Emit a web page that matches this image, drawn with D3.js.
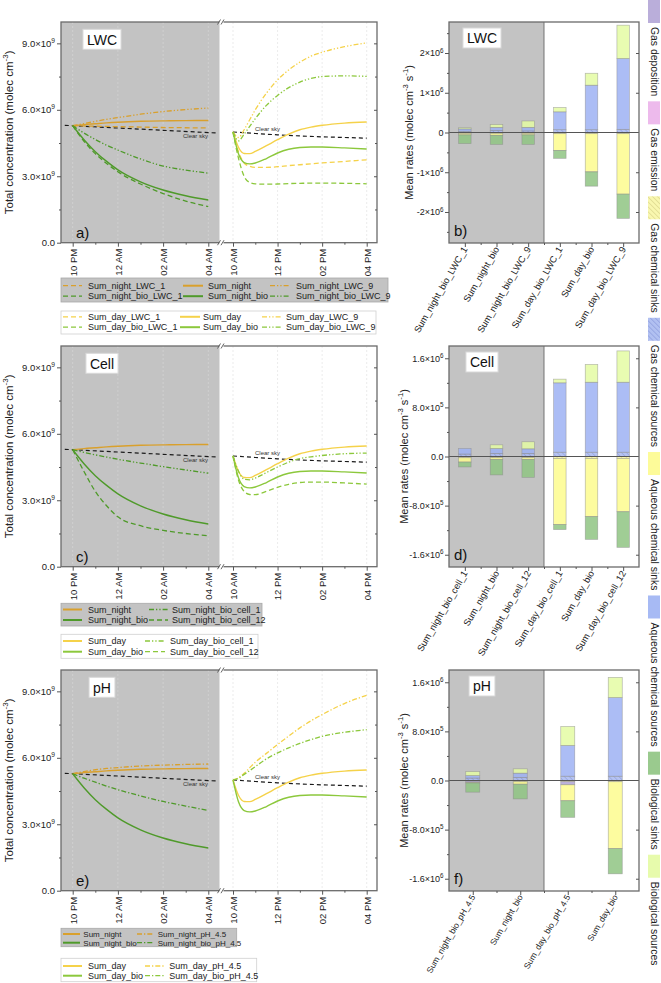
<!DOCTYPE html>
<html><head><meta charset="utf-8">
<script src="https://cdn.jsdelivr.net/npm/d3@7"></script>
<style>body{margin:0;background:#fff} svg{font-family:"Liberation Sans",Arial,sans-serif}</style>
</head><body><svg id="c" width="661" height="983"></svg>
<script>
// ---------------- DATA ----------------
const nightHours = [0,0.5,1,1.5,2,3,4,5,6];          // hours after 10 PM
const dayHours   = [0,0.25,0.5,0.75,1,1.5,2,2.5,3,3.5,4,5,6]; // hours after 10 AM
const nightTickLabels = ["10 PM","12 AM","02 AM","04 AM"];
const dayTickLabels   = ["10 AM","12 PM","02 PM","04 PM"];
const clearNightHours = [-0.35, 6.4];
const clearNight = [5.3, 4.95];
const clearDayHours = [0,1,2,3,4,5,6];
const clearDay = [5.0,4.93,4.87,4.82,4.78,4.75,4.72];

// night series (x1e9 molec cm-3)
const sumNight        = [5.28,5.33,5.37,5.41,5.44,5.48,5.50,5.51,5.52];
const sumNightLWC1    = [5.28,5.27,5.26,5.25,5.24,5.22,5.20,5.19,5.18];
const sumNightLWC9    = [5.28,5.38,5.48,5.57,5.65,5.80,5.92,6.01,6.08];
const sumNightBio     = [5.28,4.65,4.11,3.67,3.29,2.75,2.38,2.12,1.93];
const sumNightBioLWC1 = [5.28,4.58,4.02,3.58,3.20,2.65,2.22,1.88,1.63];
const sumNightBioLWC9 = [5.28,4.95,4.66,4.40,4.18,3.78,3.46,3.28,3.14];
const sumNightBioCell1  = [5.28,5.16,5.05,4.95,4.85,4.68,4.52,4.37,4.22];
const sumNightBioCell12 = [5.28,4.30,3.40,2.75,2.25,1.85,1.64,1.50,1.40];
const sumNightPH45    = [5.28,5.38,5.46,5.52,5.56,5.63,5.67,5.70,5.72];
const sumNightBioPH45 = [5.28,5.08,4.90,4.72,4.56,4.28,4.03,3.82,3.62];

// day series
const sumDay        = [5.0,4.30,4.03,4.02,4.12,4.38,4.65,4.90,5.10,5.22,5.30,5.40,5.45];
const sumDayBio     = [5.0,4.00,3.62,3.56,3.60,3.80,4.05,4.22,4.30,4.32,4.32,4.28,4.23];
const sumDayLWC1    = [5.0,4.10,3.60,3.45,3.40,3.40,3.43,3.48,3.52,3.56,3.60,3.67,3.74];
const sumDayBioLWC1 = [5.0,3.80,3.00,2.72,2.66,2.64,2.65,2.67,2.68,2.69,2.69,2.68,2.66];
const sumDayLWC9    = [5.0,4.75,5.10,5.55,6.00,6.75,7.35,7.80,8.15,8.42,8.60,8.85,9.02];
const sumDayBioLWC9 = [5.0,4.60,4.90,5.25,5.60,6.20,6.65,7.00,7.25,7.42,7.50,7.53,7.51];
const sumDayBioCell1  = [5.0,4.30,3.95,3.92,4.00,4.25,4.50,4.72,4.88,4.96,5.02,5.10,5.13];
const sumDayBioCell12 = [5.0,3.90,3.40,3.26,3.25,3.40,3.58,3.72,3.80,3.82,3.82,3.78,3.73];
const sumDayPH45    = [5.0,5.10,5.30,5.55,5.80,6.20,6.60,6.98,7.35,7.67,7.95,8.45,8.82];
const sumDayBioPH45 = [5.0,5.08,5.25,5.42,5.60,5.95,6.22,6.45,6.65,6.82,6.97,7.15,7.27];

const lineYTicks = [0,3,6,9];
const lineYTickLabels = ["0.0","3.0×10^{9}","6.0×10^{9}","9.0×10^{9}"];

// bar data (x1e6 molec cm-3 s-1)
const catsB = ["Sum_night_bio_LWC_1","Sum_night_bio","Sum_night_bio_LWC_9","Sum_day_bio_LWC_1","Sum_day_bio","Sum_day_bio_LWC_9"];
const gasChemSrcB = [0.03,0.05,0.04,0.07,0.07,0.08];
const gasChemSinkB= [-0.02,-0.02,-0.02,-0.03,-0.03,-0.03];
const gasEmisB    = [0,0,0,0,0,0];
const gasDepB     = [0,0,0,0,0,0];
const aqSrcB      = [0.06,0.08,0.09,0.45,1.12,1.78];
const aqSinkB     = [-0.04,-0.05,-0.04,-0.42,-0.96,-1.52];
const bioSrcB     = [0.03,0.07,0.16,0.11,0.30,0.84];
const bioSinkB    = [-0.22,-0.23,-0.24,-0.20,-0.36,-0.61];

const catsD = ["Sum_night_bio_cell_1","Sum_night_bio","Sum_night_bio_cell_12","Sum_day_bio_cell_1","Sum_day_bio","Sum_day_bio_cell_12"];
const gasChemSrcD = [0.04,0.05,0.05,0.07,0.07,0.07];
const gasChemSinkD= [-0.02,-0.02,-0.02,-0.03,-0.03,-0.03];
const gasEmisD    = [0,0,0,0,0,0];
const gasDepD     = [0,0,0,0,0,0];
const aqSrcD      = [0.09,0.08,0.075,1.13,1.14,1.14];
const aqSinkD     = [-0.07,-0.03,-0.03,-1.08,-0.95,-0.87];
const bioSrcD     = [0.0,0.06,0.115,0.06,0.29,0.51];
const bioSinkD    = [-0.08,-0.25,-0.29,-0.08,-0.37,-0.58];

const catsF = ["Sum_night_bio_pH_4.5","Sum_night_bio","Sum_day_bio_pH_4.5","Sum_day_bio"];
const gasChemSrcF = [0.04,0.05,0.07,0.07];
const gasChemSinkF= [-0.01,-0.02,-0.02,-0.02];
const gasEmisF    = [0,0,0,0];
const gasDepF     = [-0.02,0,-0.05,0];
const aqSrcF      = [0.04,0.07,0.50,1.28];
const aqSinkF     = [-0.01,-0.04,-0.26,-1.09];
const bioSrcF     = [0.066,0.07,0.31,0.33];
const bioSinkF    = [-0.15,-0.24,-0.27,-0.41];

const barTicksB = [-2,-1,0,1,2];
const barTickLabelsB = ["-2×10^{6}","-1×10^{6}","0","1×10^{6}","2×10^{6}"];
const barTicksDF = [-1.6,-0.8,0,0.8,1.6];
const barTickLabelsDF = ["-1.6×10^{6}","-8.0×10^{5}","0.0","8.0×10^{5}","1.6×10^{6}"];

const legendNames = ["Gas deposition","Gas emission","Gas chemical sinks","Gas chemical sources","Aqueous chemical sinks","Aqueous chemical sources","Biological sinks","Biological sources"];

// ---------------- STYLE ----------------
const COL = {nO:"#d9a02c", nG:"#4f9a2a", dY:"#f5d24a", dG:"#8cc83c"};
const DASH = {solid:null, dash:"5,3", dd:"5,2,1.3,2,1.3,2", dot:"5,2,1.3,2"};
const GRAY = "#c3c3c3";
const TICKFS = 9.5, BARTICKFS = 9;
const keys = ["gasChemSrc","gasChemSink","gasEmis","gasDep","aqSrc","aqSink","bioSrc","bioSink"];
const FILL = {gasChemSrc:"url(#hBlue)", gasChemSink:"url(#hYel)", gasEmis:"#ebb3ea", gasDep:"#b2a5d6",
  aqSrc:"#9db2f3", aqSink:"#fdfb8e", bioSrc:"#e4fba3", bioSink:"#8fc482"};
const legendKeys = ["gasDep","gasEmis","gasChemSink","gasChemSrc","aqSink","aqSrc","bioSink","bioSrc"];

const svg = d3.select("#c");
const defs = svg.append("defs");
function hatch(id, bg, line){
  const p = defs.append("pattern").attr("id",id).attr("patternUnits","userSpaceOnUse")
    .attr("width",3.5).attr("height",3.5).attr("patternTransform","rotate(-45)");
  p.append("rect").attr("width",3.5).attr("height",3.5).attr("fill",bg);
  p.append("line").attr("x1",0).attr("y1",0).attr("x2",0).attr("y2",3.5).attr("stroke",line).attr("stroke-width",0.7);
}
hatch("hBlue","#a9b9f0","#5d6fc4");
hatch("hYel","#f8f6a6","#b9b060");

function richText(t, str, fs){
  const parts = str.split(/(\^\{[^}]*\})/).filter(s=>s.length);
  let shifted=false;
  parts.forEach(p=>{
    if(p.startsWith("^{")){ t.append("tspan").attr("dy",-fs*0.42).attr("font-size",fs*0.7).text(p.slice(2,-1)); shifted=true; }
    else { const ts=t.append("tspan").text(p); if(shifted){ ts.attr("dy",fs*0.42); shifted=false; } }
  });
}

const LX0=61, LXB=219.5, LX1=377;
const BX0=449, BX1=639;
const xNight = d3.scaleLinear().domain([0,6]).range([72.7,208.3]);
const xDay   = d3.scaleLinear().domain([0,6]).range([233,366.7]);

// d3.axis sets font-size/font-family on its group: override afterwards
function styleAxis(g, fs){
  g.attr("font-family", null);
  if (fs) g.attr("font-size", fs);
  g.select(".domain").remove();
  g.selectAll(".tick line").attr("stroke","#555").attr("stroke-width",1);
  g.selectAll(".tick text").attr("fill","#222");
}
function tagBox(g, cx, top, y0, tag){
  const rect = g.append("rect");
  const tt = g.append("text").attr("x",cx).attr("y",top+y0+15.3).attr("text-anchor","middle").attr("font-size",14).attr("fill","#111").text(tag);
  const tw = tt.node().getComputedTextLength();
  rect.attr("x",cx-tw/2-4).attr("y",top+y0).attr("width",tw+8).attr("height",20).attr("fill","#fff").attr("stroke","#d8d8d8");
}

// ---------------- LINE PANELS ----------------
const linePanels = [
 {off:0, tag:"LWC", letter:"a)",
  night:[[sumNightLWC1,"nO","dash"],[sumNight,"nO","solid"],[sumNightLWC9,"nO","dd"],
         [sumNightBioLWC1,"nG","dash"],[sumNightBio,"nG","solid"],[sumNightBioLWC9,"nG","dd"]],
  day:[[sumDayLWC1,"dY","dash"],[sumDay,"dY","solid"],[sumDayLWC9,"dY","dd"],
       [sumDayBioLWC1,"dG","dash"],[sumDayBio,"dG","solid"],[sumDayBioLWC9,"dG","dd"]],
  legends:[
   {box:[61,388,278,302], fill:GRAY, fs:9, rows:[285.7,296.2],
    cols:[[63,82,88],[183,203,208],[270,290,296]],
    items:[["Sum_night_LWC_1","nO","dash"],["Sum_night_bio_LWC_1","nG","dash"],["Sum_night","nO","solid"],["Sum_night_bio","nG","solid"],["Sum_night_LWC_9","nO","dd"],["Sum_night_bio_LWC_9","nG","dd"]]},
   {box:[61,376,311,334], fill:"#fff", fs:9, rows:[316.8,327.2],
    cols:[[63,82,88],[180,200,203],[262,282,286]],
    items:[["Sum_day_LWC_1","dY","dash"],["Sum_day_bio_LWC_1","dG","dash"],["Sum_day","dY","solid"],["Sum_day_bio","dG","solid"],["Sum_day_LWC_9","dY","dd"],["Sum_day_bio_LWC_9","dG","dd"]]}
  ]},
 {off:324, tag:"Cell", letter:"c)",
  night:[[sumNight,"nO","solid"],[sumNightBio,"nG","solid"],[sumNightBioCell1,"nG","dd"],[sumNightBioCell12,"nG","dash"]],
  day:[[sumDay,"dY","solid"],[sumDayBio,"dG","solid"],[sumDayBioCell1,"dG","dd"],[sumDayBioCell12,"dG","dash"]],
  legends:[
   {box:[61,262,603.3,626], fill:GRAY, fs:9, rows:[609.5,620],
    cols:[[63,82,88],[149,168,172]],
    items:[["Sum_night","nO","solid"],["Sum_night_bio","nG","solid"],["Sum_night_bio_cell_1","nG","dd"],["Sum_night_bio_cell_12","nG","dash"]]},
   {box:[61,258,634.3,658.3], fill:"#fff", fs:9, rows:[641,651.7],
    cols:[[63,82,88],[145,165,170]],
    items:[["Sum_day","dY","solid"],["Sum_day_bio","dG","solid"],["Sum_day_bio_cell_1","dG","dd"],["Sum_day_bio_cell_12","dG","dash"]]}
  ]},
 {off:648, tag:"pH", letter:"e)",
  night:[[sumNight,"nO","solid"],[sumNightPH45,"nO","dot"],[sumNightBio,"nG","solid"],[sumNightBioPH45,"nG","dot"]],
  day:[[sumDay,"dY","solid"],[sumDayBio,"dG","solid"],[sumDayPH45,"dY","dot"],[sumDayBioPH45,"dG","dot"]],
  legends:[
   {box:[61,236.7,928.3,946.7], fill:GRAY, fs:8, rows:[934,942.7],
    cols:[[63,80,83.3],[137,153,157.7]],
    items:[["Sum_night","nO","solid"],["Sum_night_bio","nG","solid"],["Sum_night_pH_4.5","nO","dot"],["Sum_night_bio_pH_4.5","nG","dot"]]},
   {box:[61,256.7,958.3,981.7], fill:"#fff", fs:9, rows:[966,975.7],
    cols:[[63,82,88],[145,165,169.3]],
    items:[["Sum_day","dY","solid"],["Sum_day_bio","dG","solid"],["Sum_day_pH_4.5","dY","dot"],["Sum_day_bio_pH_4.5","dG","dot"]]}
  ]}
];

linePanels.forEach((P,pi)=>{
  const top=22+P.off, bot=242.7+P.off;
  const y = d3.scaleLinear().domain([0,10]).range([bot, 21.2+P.off]);
  const g = svg.append("g");
  g.append("rect").attr("x",LX0).attr("y",top).attr("width",LXB-LX0).attr("height",bot-top).attr("fill",GRAY);
  [0,2,4,6].forEach(h=>{
    g.append("line").attr("x1",xNight(h)).attr("x2",xNight(h)).attr("y1",top).attr("y2",bot).attr("stroke","#d6d6d6").attr("stroke-width",0.7).attr("stroke-dasharray","2,2");
    g.append("line").attr("x1",xDay(h)).attr("x2",xDay(h)).attr("y1",top).attr("y2",bot).attr("stroke","#e2e2e2").attr("stroke-width",0.7).attr("stroke-dasharray","2,2");
  });
  const cidN="cn"+pi, cidD="cd"+pi;
  defs.append("clipPath").attr("id",cidN).append("rect").attr("x",LX0).attr("y",top).attr("width",LXB-LX0).attr("height",bot-top);
  defs.append("clipPath").attr("id",cidD).append("rect").attr("x",LXB).attr("y",top).attr("width",LX1-LXB).attr("height",bot-top);
  const lnN = d3.line().x((d,i)=>xNight(nightHours[i])).y(d=>y(d)).curve(d3.curveMonotoneX);
  const lnD = d3.line().x((d,i)=>xDay(dayHours[i])).y(d=>y(d)).curve(d3.curveMonotoneX);
  const gN = g.append("g").attr("clip-path",`url(#${cidN})`);
  const gD = g.append("g").attr("clip-path",`url(#${cidD})`);
  gN.append("path").attr("d", d3.line().x((d,i)=>xNight(clearNightHours[i])).y(d=>y(d))(clearNight))
    .attr("fill","none").attr("stroke","#1a1a1a").attr("stroke-width",1.2).attr("stroke-dasharray","4,3");
  gD.append("path").attr("d", d3.line().x((d,i)=>xDay(clearDayHours[i])).y(d=>y(d)).curve(d3.curveMonotoneX)(clearDay))
    .attr("fill","none").attr("stroke","#1a1a1a").attr("stroke-width",1.2).attr("stroke-dasharray","4,3");
  P.night.forEach(([v,c,ds])=>{
    gN.append("path").attr("d",lnN(v)).attr("fill","none").attr("stroke",COL[c]).attr("stroke-width",ds==="solid"?1.4:1.3).attr("stroke-dasharray",DASH[ds]);
  });
  P.day.forEach(([v,c,ds])=>{
    gD.append("path").attr("d",lnD(v)).attr("fill","none").attr("stroke",COL[c]).attr("stroke-width",ds==="solid"?1.4:1.3).attr("stroke-dasharray",DASH[ds]);
  });
  g.append("text").attr("x",183).attr("y",138+P.off).attr("font-size",6).attr("fill","#333").text("Clear sky");
  g.append("text").attr("x",255).attr("y",131+P.off).attr("font-size",6).attr("fill","#333").text("Clear sky");
  g.append("rect").attr("x",LX0).attr("y",top).attr("width",LX1-LX0).attr("height",bot-top).attr("fill","none").attr("stroke","#6a6a6a").attr("stroke-width",1.3);
  [top,bot].forEach(yy=>{
    g.append("rect").attr("x",219.5).attr("y",yy-1.5).attr("width",4).attr("height",3).attr("fill","#fff");
    [219,222.5].forEach(xx=>g.append("line").attr("x1",xx-1.5).attr("y1",yy+2.5).attr("x2",xx+1.5).attr("y2",yy-2.5).attr("stroke","#555").attr("stroke-width",0.9));
  });
  const ga = g.append("g").attr("transform",`translate(${LX0},0)`)
    .call(d3.axisLeft(y).tickValues(lineYTicks).tickSize(4).tickPadding(2));
  styleAxis(ga, TICKFS);
  ga.selectAll(".tick text").each(function(d,i){ const t=d3.select(this); t.text(null); richText(t,lineYTickLabels[i],TICKFS); });
  styleAxis(g.append("g").attr("transform",`translate(${LX0},0)`).call(d3.axisLeft(y).tickValues([1.5,4.5,7.5]).tickSize(2).tickFormat("")));
  styleAxis(g.append("g").attr("transform",`translate(${LX1},0)`).call(d3.axisLeft(y).tickValues(lineYTicks.slice(1)).tickSize(3).tickFormat("")));
  styleAxis(g.append("g").attr("transform",`translate(${LX1},0)`).call(d3.axisLeft(y).tickValues([1.5,4.5,7.5]).tickSize(2).tickFormat("")));
  [[xNight,nightTickLabels],[xDay,dayTickLabels]].forEach(([xs,labs])=>{
    const gx = g.append("g").attr("transform",`translate(0,${bot})`)
      .call(d3.axisBottom(xs).tickValues([0,2,4,6]).tickSize(4).tickFormat((d,i)=>labs[i]));
    styleAxis(gx, 9.5);
    gx.selectAll(".tick text").attr("transform","rotate(-90)").attr("text-anchor","end").attr("x",-6).attr("y",0).attr("dy","0.35em");
    styleAxis(g.append("g").attr("transform",`translate(0,${bot})`).call(d3.axisBottom(xs).tickValues([1,3,5]).tickSize(2).tickFormat("")));
  });
  const yt = g.append("text").attr("transform",`translate(13,${(top+bot)/2}) rotate(-90)`).attr("text-anchor","middle").attr("font-size",11.5).attr("fill","#222");
  richText(yt,"Total concentration (molec cm^{-3})",11.5);
  tagBox(g, 102, top, 7.3, P.tag);
  g.append("text").attr("x",76).attr("y",bot-5).attr("font-size",15).attr("fill","#111").text(P.letter);
  P.legends.forEach(L=>{
    const [x0,x1,y0,y1]=L.box;
    g.append("rect").attr("x",x0).attr("y",y0).attr("width",x1-x0).attr("height",y1-y0).attr("fill",L.fill).attr("stroke",L.fill==="#fff"?"#d0d0d0":"#a8a8a8").attr("stroke-width",0.8);
    L.items.forEach((it,k)=>{
      const col=L.cols[Math.floor(k/2)], yy=L.rows[k%2];
      g.append("line").attr("x1",col[0]).attr("x2",col[1]).attr("y1",yy).attr("y2",yy).attr("stroke",COL[it[1]]).attr("stroke-width",it[2]==="solid"?2:1.3).attr("stroke-dasharray",DASH[it[2]]);
      g.append("text").attr("x",col[2]).attr("y",yy).attr("dy","0.35em").attr("font-size",L.fs).attr("fill","#222").text(it[0]);
    });
  });
});

// ---------------- BAR PANELS ----------------
const barPanels = [
 {off:0, tag:"LWC", letter:"b)", cats:catsB, dom:2.78, ticks:barTicksB, labels:barTickLabelsB, minor:[-2.5,-1.5,-0.5,0.5,1.5,2.5], bw:12.5, tx:412.5, lfs:9.3,
  vals:{gasChemSrc:gasChemSrcB,gasChemSink:gasChemSinkB,gasEmis:gasEmisB,gasDep:gasDepB,aqSrc:aqSrcB,aqSink:aqSinkB,bioSrc:bioSrcB,bioSink:bioSinkB}},
 {off:324, tag:"Cell", letter:"d)", cats:catsD, dom:1.8, ticks:barTicksDF, labels:barTickLabelsDF, minor:[-1.2,-0.4,0.4,1.2], bw:12.5, tx:408, lfs:9.3,
  vals:{gasChemSrc:gasChemSrcD,gasChemSink:gasChemSinkD,gasEmis:gasEmisD,gasDep:gasDepD,aqSrc:aqSrcD,aqSink:aqSinkD,bioSrc:bioSrcD,bioSink:bioSinkD}},
 {off:648, tag:"pH", letter:"f)", cats:catsF, dom:1.8, ticks:barTicksDF, labels:barTickLabelsDF, minor:[-1.2,-0.4,0.4,1.2], bw:14, tx:408, lfs:8.5,
  vals:{gasChemSrc:gasChemSrcF,gasChemSink:gasChemSinkF,gasEmis:gasEmisF,gasDep:gasDepF,aqSrc:aqSrcF,aqSink:aqSinkF,bioSrc:bioSrcF,bioSink:bioSinkF}}
];

barPanels.forEach(P=>{
  const top=22+P.off, bot=243+P.off, n=P.cats.length;
  const y = d3.scaleLinear().domain([-P.dom,P.dom]).range([bot,top]);
  const x = d3.scaleLinear().domain([0.5,n+0.5]).range([BX0,BX1]);
  const g = svg.append("g");
  g.append("rect").attr("x",BX0).attr("y",top).attr("width",x(n/2+0.5)-BX0).attr("height",bot-top).attr("fill",GRAY);
  g.append("line").attr("x1",x(n/2+0.5)).attr("x2",x(n/2+0.5)).attr("y1",top).attr("y2",bot).attr("stroke","#666").attr("stroke-width",0.9);
  const rows = P.cats.map((c,i)=>{ const r={cat:c, i:i+1}; keys.forEach(k=>r[k]=P.vals[k][i]); return r; });
  const series = d3.stack().keys(keys).offset(d3.stackOffsetDiverging)(rows);
  series.forEach(s=>{
    g.append("g").selectAll("rect").data(s).join("rect")
      .attr("x",d=>x(d.data.i)-P.bw/2).attr("width",P.bw)
      .attr("y",d=>y(Math.max(d[0],d[1]))).attr("height",d=>Math.abs(y(d[0])-y(d[1])))
      .attr("fill",FILL[s.key]).attr("fill-opacity",0.85)
      .attr("stroke","#8a8a8a").attr("stroke-opacity",0.6).attr("stroke-width",0.7);
  });
  g.append("line").attr("x1",BX0).attr("x2",BX1).attr("y1",y(0)).attr("y2",y(0)).attr("stroke","#555").attr("stroke-width",1);
  g.append("rect").attr("x",BX0).attr("y",top).attr("width",BX1-BX0).attr("height",bot-top).attr("fill","none").attr("stroke","#6a6a6a").attr("stroke-width",1.3);
  const ga = g.append("g").attr("transform",`translate(${BX0},0)`)
    .call(d3.axisLeft(y).tickValues(P.ticks).tickSize(4).tickPadding(1.5));
  styleAxis(ga, BARTICKFS);
  ga.selectAll(".tick text").each(function(d,i){ const t=d3.select(this); t.text(null); richText(t,P.labels[i],BARTICKFS); });
  styleAxis(g.append("g").attr("transform",`translate(${BX0},0)`).call(d3.axisLeft(y).tickValues(P.minor).tickSize(2).tickFormat("")));
  styleAxis(g.append("g").attr("transform",`translate(${BX1},0)`).call(d3.axisLeft(y).tickValues(P.ticks.filter(v=>v!==0)).tickSize(3).tickFormat("")));
  const gx = g.append("g").attr("transform",`translate(0,${bot})`)
    .call(d3.axisBottom(x).tickValues(d3.range(1,n+1)).tickSize(4).tickFormat((d,i)=>P.cats[i]));
  styleAxis(gx, P.lfs);
  gx.selectAll(".tick text").attr("transform","rotate(-60)").attr("text-anchor","end").attr("x",-4).attr("y",2).attr("dy","0.35em");
  styleAxis(g.append("g").attr("transform",`translate(0,${bot})`).call(d3.axisBottom(x).tickValues(d3.range(1.5,n,1)).tickSize(2).tickFormat("")));
  const yt = g.append("text").attr("transform",`translate(${P.tx},${(top+bot)/2}) rotate(-90)`).attr("text-anchor","middle").attr("font-size",11).attr("fill","#222");
  richText(yt,"Mean rates (molec cm^{-3} s^{-1})",11);
  tagBox(g, 482, top, 6, P.tag);
  g.append("text").attr("x",454).attr("y",bot-7).attr("font-size",15).attr("fill","#111").text(P.letter);
});

// ---------------- RIGHT LEGEND ----------------
(function(){
  const g = svg.append("g");
  let yy = 0;
  legendKeys.forEach((k,i)=>{
    g.append("rect").attr("x",648).attr("y",yy).attr("width",12).attr("height",23).attr("fill",FILL[k]).attr("fill-opacity",0.9);
    const t = g.append("text").attr("transform",`translate(650.5,${yy+27}) rotate(90)`).attr("font-size",10.4).attr("fill","#222").text(legendNames[i]);
    yy = yy + 27 + t.node().getComputedTextLength() + 5;
  });
})();
</script></body></html>
